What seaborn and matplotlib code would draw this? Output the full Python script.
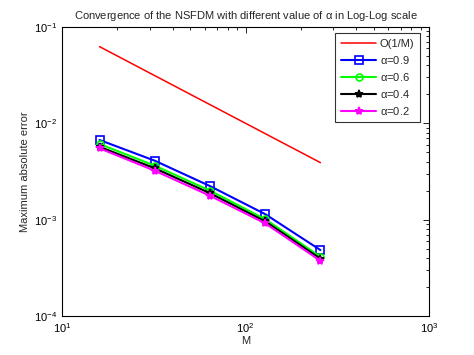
import numpy as np
import pandas as pd
import matplotlib
matplotlib.use('Agg')
import matplotlib.pyplot as plt
import seaborn as sns

# ── Data ────────────────────────────────────────────────────
M = [16, 32, 64, 128, 256]
ref_order = [1.0 / m for m in M]  # O(1/M) reference line
err_09 = [0.00671, 0.00409, 0.00223, 0.00114, 0.000483]
err_06 = [0.00610, 0.00363, 0.00200, 0.00101, 0.000412]
err_04 = [0.00570, 0.00341, 0.00188, 0.00096, 0.000393]
err_02 = [0.00550, 0.00322, 0.00177, 0.000916, 0.000374]

labels = ['O(1/M)', r'$\alpha$=0.9', r'$\alpha$=0.6', r'$\alpha$=0.4', r'$\alpha$=0.2']
series = [ref_order, err_09, err_06, err_04, err_02]

sns.set_style("white")
plt.rcParams['font.family'] = ['Liberation Sans', 'DejaVu Sans']
plt.rcParams['mathtext.fontset'] = 'custom'
plt.rcParams['mathtext.rm'] = 'Liberation Sans'
plt.rcParams['mathtext.it'] = 'Liberation Sans'

fig = plt.figure(figsize=(4.74, 3.55), dpi=100)
ax = fig.add_axes([0.131, 0.110, 0.774, 0.814])

styles = [
    dict(color='#ff0000', marker=None, lw=1.1),
    dict(color='#0000ff', marker='s', mfc='none', ms=6, lw=1.5),
    dict(color='#00ff00', marker='o', mfc='none', ms=5, lw=1.5),
    dict(color='#000000', marker='*', mfc='#000000', ms=6, lw=1.5),
    dict(color='#ff00ff', marker='*', mfc='#ff00ff', ms=6, lw=1.5),
]

for lab, vals, st in zip(labels, series, styles):
    df = pd.DataFrame({'M': M, 'err': vals})
    kw = dict(color=st['color'], linewidth=st['lw'], label=lab)
    if st['marker'] is not None:
        kw.update(marker=st['marker'], markersize=st['ms'],
                  markerfacecolor=st['mfc'], markeredgecolor=st['color'],
                  markeredgewidth=1.2)
    sns.lineplot(data=df, x='M', y='err', ax=ax, **kw)

ax.set_xscale('log')
ax.set_yscale('log')
ax.set_xlim(10, 1000)
ax.set_ylim(1e-4, 1e-1)

ax.tick_params(which='both', direction='in', top=True, right=True,
               labelsize=8, colors='black')
ax.tick_params(which='major', length=4, width=0.6)
ax.tick_params(which='minor', length=2, width=0.6)
for sp in ax.spines.values():
    sp.set_color('black')
    sp.set_linewidth(0.8)

ax.set_xlabel('M', fontsize=8, labelpad=1)
ax.set_ylabel('Maximum absolute error', fontsize=8, labelpad=3)
ax.set_title(r'Convergence of the NSFDM with different value of $\alpha$ in Log-Log scale',
             fontsize=8, pad=6)

leg = ax.legend(loc='upper right', bbox_to_anchor=(0.975, 0.979), fontsize=8,
                frameon=True, fancybox=False, edgecolor='black',
                handlelength=3.2, borderpad=0.5, labelspacing=0.45,
                handletextpad=0.3, borderaxespad=0.0)
leg.get_frame().set_linewidth(0.8)

fig.savefig('out.png', dpi=100)
